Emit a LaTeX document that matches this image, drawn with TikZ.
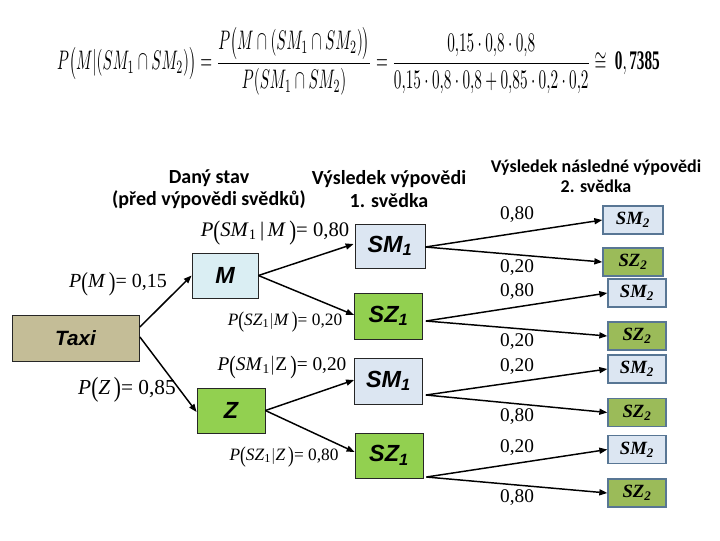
\documentclass[tikz,border=0pt]{standalone}
\usepackage{fontspec}
\usepackage{amsmath,amssymb}
\setmainfont{Liberation Serif}
\newfontfamily\sansf{Liberation Sans}
\newfontfamily\carl{Carlito}
\usetikzlibrary{arrows.meta,calc}
\newdimen\px \px=0.75pt
\definecolor{taxifill}{HTML}{C4BD97}
\definecolor{mfill}{HTML}{DAEEF3}
\definecolor{smfill}{HTML}{DCE6F2}
\definecolor{szfill}{HTML}{92D050}
\definecolor{sztwofill}{HTML}{9BBB59}
\definecolor{twoborder}{HTML}{587694}
\newcommand{\bp}[1]{\raisebox{-0.12em}{\scalebox{1}[1.3]{#1}}}
\begin{document}
\begin{tikzpicture}[x=0.75pt,y=-0.75pt,
  lvlone/.style={draw=black!85, line width=0.6pt, rectangle, inner sep=0pt,
    minimum width=68\px, minimum height=45\px,
    font=\sansf\bfseries\itshape\fontsize{17.5}{17.5}\selectfont},
  lvltwo/.style={draw=twoborder, line width=1pt, rectangle, inner sep=0pt,
    minimum width=58\px, minimum height=28\px,
    font=\bfseries\itshape\fontsize{14}{14}\selectfont},
  hdr/.style={align=center, inner sep=0pt, font=\carl\bfseries\fontsize{15}{17}\selectfont},
  hdrtwo/.style={align=center, inner sep=0pt, font=\carl\bfseries\fontsize{13.5}{15}\selectfont},
  plab/.style={inner sep=0pt, font=\fontsize{13}{14}\selectfont},
  nlab/.style={inner sep=0pt, font=\fontsize{14.5}{15}\selectfont},
  conn/.style={-{Triangle[length=6pt,width=4.5pt]}, line width=1.1pt, black}
]
\useasboundingbox (0,0) rectangle (720,540);

% formula
\node[inner sep=0pt] (formula) at (358.5,61) {\resizebox{452pt}{32pt}{$P\big(M|(SM_1\cap SM_2)\big)=\dfrac{P\big(M\cap(SM_1\cap SM_2)\big)}{P(SM_1\cap SM_2)}=\dfrac{0{,}15\cdot0{,}8\cdot0{,}8}{0{,}15\cdot0{,}8\cdot0{,}8+0{,}85\cdot0{,}2\cdot0{,}2}\cong\;\mathbf{0,7385}$}};

% headers
\node[hdr] (h1) at (209,189) {Daný stav\\(před výpovědi svědků)};
\node[hdr] (h2) at (389,189) {Výsledek výpovědi\\1. svědka};
\node[hdrtwo] (h3) at (596,176) {Výsledek následné výpovědi\\2. svědka};

% boxes
\node[lvlone, fill=taxifill, minimum width=127\px, minimum height=46\px, font=\sansf\bfseries\itshape\fontsize{15.5}{15.5}\selectfont] (taxi) at (75.5,338) {Taxi};
\node[lvlone, fill=mfill, minimum width=66\px] (M) at (225,275.5) {M};
\node[lvlone, fill=szfill] (Z) at (231,410.5) {Z};
\node[lvlone, fill=smfill, minimum width=70\px, minimum height=44\px] (SMa) at (390,246) {SM\textsubscript{1}};
\node[lvlone, fill=szfill, minimum height=46\px] (SZa) at (388.5,316) {SZ\textsubscript{1}};
\node[lvlone, fill=smfill, minimum height=46\px] (SMb) at (388.5,381) {SM\textsubscript{1}};
\node[lvlone, fill=szfill] (SZb) at (389,455.5) {SZ\textsubscript{1}};

\node[lvltwo, fill=smfill, minimum width=60\px] (TMa) at (633,220) {SM\textsubscript{2}};
\node[lvltwo, fill=sztwofill, minimum width=60\px] (TZa) at (633,262) {SZ\textsubscript{2}};
\node[lvltwo, fill=smfill] (TMb) at (637,293) {SM\textsubscript{2}};
\node[lvltwo, fill=sztwofill] (TZb) at (637,336) {SZ\textsubscript{2}};
\node[lvltwo, fill=smfill] (TMc) at (637,369) {SM\textsubscript{2}};
\node[lvltwo, fill=sztwofill] (TZc) at (637,412.5) {SZ\textsubscript{2}};
\node[lvltwo, fill=smfill] (TMd) at (637,449.5) {SM\textsubscript{2}};
\node[lvltwo, fill=sztwofill] (TZd) at (637,493) {SZ\textsubscript{2}};

% start points
\coordinate (oTaxiU) at ($(taxi.east)+(0.5,-11)$);
\coordinate (oTaxiD) at ($(taxi.east)+(0.5,-1)$);
\coordinate (oSMa) at ($(SMa.east)+(0,1)$);
\coordinate (oSZa) at ($(SZa.east)+(3,5)$);
\coordinate (oSMb) at ($(SMb.east)+(3,14)$);
\coordinate (oSZb) at ($(SZb.east)+(3,21.5)$);

% connectors
\draw[conn] (oTaxiU) -- (M.west);
\draw[conn] (oTaxiD) -- ($(Z.west)+(0,1.5)$);
\draw[conn] (M.east) -- ($(SMa.west)+(-1,-2)$);
\draw[conn] (M.east) -- ($(SZa.west)+(0,-1)$);
\draw[conn] (Z.east) -- ($(SMb.west)+(0,-1)$);
\draw[conn] (Z.east) -- ($(SZb.west)+(0,-3.5)$);

\draw[conn] (oSMa) -- (TMa.west);
\draw[conn] (oSMa) -- (TZa.west);
\draw[conn] (oSZa) -- (TMb.west);
\draw[conn] (oSZa) -- (TZb.west);
\draw[conn] (oSMb) -- (TMc.west);
\draw[conn] (oSMb) -- (TZc.west);
\draw[conn] (oSZb) -- (TMd.west);
\draw[conn] (oSZb) -- (TZd.west);

% probability labels
\node[plab, font=\fontsize{15}{16}\selectfont] (pM) at (118,284) {\textit{P}\bp{(}\textit{M}\,\bp{)}= 0,15};
\node[plab, font=\fontsize{16}{17}\selectfont] (pZ) at (127,390) {\textit{P}\bp{(}\textit{Z}\,\bp{)}= 0,85};
\node[plab, font=\fontsize{15.5}{16}\selectfont] (pSMM) at (275,233) {\textit{P}\bp{(}\textit{SM}\textsubscript{1}\,|\,\textit{M}\,\bp{)}= 0,80};
\node[plab] (pSZM) at (285,322) {\textit{P}\bp{(}\textit{SZ}\textsubscript{1}$|$\textit{M}\,\bp{)}= 0,20};
\node[plab, font=\fontsize{14.5}{15}\selectfont] (pSMZ) at (282,367) {\textit{P}\bp{(}\textit{SM}\textsubscript{1}$|$Z\,\bp{)}= 0,20};
\node[plab] (pSZZ) at (284,457) {\textit{P}\bp{(}\textit{SZ}\textsubscript{1}$|$\textit{Z}\,\bp{)}= 0,80};

% second-level labels
\node[nlab] (la) at (517,215) {0,80};
\node[nlab] (lb) at (517,268) {0,20};
\node[nlab] (lc) at (517,292) {0,80};
\node[nlab] (ld) at (517,342) {0,20};
\node[nlab] (le) at (517,367) {0,20};
\node[nlab] (lf) at (517,417) {0,80};
\node[nlab] (lg) at (517,448) {0,20};
\node[nlab] (lh) at (517,498) {0,80};
\end{tikzpicture}
\end{document}
